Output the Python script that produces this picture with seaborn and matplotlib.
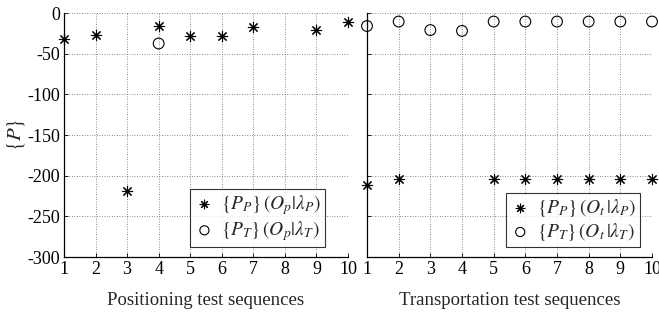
import matplotlib
matplotlib.use("Agg")
import matplotlib.pyplot as plt
import seaborn as sns
import pandas as pd
import numpy as np

sns.set_theme(style="white")
plt.rcParams['font.family'] = ['Liberation Serif', 'DejaVu Serif']
plt.rcParams['mathtext.fontset'] = 'stix'
plt.rcParams['axes.unicode_minus'] = False

# Positioning test sequences
pos_seq_PP = [1, 2, 3, 4, 5, 6, 7, 9, 10]
pos_PP = [-31.5, -27.5, -219, -16, -28, -28, -17.5, -21.5, -11.5]
pos_seq_PT = [4]
pos_PT = [-37.5]

# Transportation test sequences
tr_seq_PP = [1, 2, 5, 6, 7, 8, 9, 10]
tr_PP = [-211, -204, -204, -204, -204, -204, -204, -204]
tr_seq_PT = [1, 2, 3, 4, 5, 6, 7, 8, 9, 10]
tr_PT = [-16, -10.5, -21, -22, -10.5, -10.5, -10.5, -10.5, -10.5, -10.5]

xticks = list(range(1, 11))
yticks = [0, -50, -100, -150, -200, -250, -300]

leg_pos = [r'$\{P_P\}\,(O_p|\lambda_P)$', r'$\{P_T\}\,(O_p|\lambda_T)$']
leg_tr = [r'$\{P_P\}\,(O_t\,|\lambda_P)$', r'$\{P_T\}\,(O_t\,|\lambda_T)$']

fig = plt.figure(figsize=(6.59, 3.2), dpi=100)
ax1 = fig.add_axes([64/659, 1-257/320, 284/659, 244/320])
ax2 = fig.add_axes([367/659, 1-257/320, 285/659, 244/320])

star = (8, 2, 0)

def draw(ax, xs1, ys1, xs2, ys2, labels, xlabel, anchor):
    d1 = pd.DataFrame({'seq': xs1, 'val': ys1})
    d2 = pd.DataFrame({'seq': xs2, 'val': ys2})
    sns.scatterplot(data=d1, x='seq', y='val', ax=ax, marker=star, s=55,
                    color='black', linewidth=0.8, label=labels[0], clip_on=False, zorder=5)
    sns.scatterplot(data=d2, x='seq', y='val', ax=ax, marker='o', s=60,
                    facecolor='none', edgecolor='black', linewidth=0.8,
                    label=labels[1], clip_on=False, zorder=5)
    ax.set_xlim(1, 10)
    ax.set_ylim(-300, 0)
    ax.set_xticks(xticks)
    ax.set_yticks(yticks)
    ax.grid(True, linestyle=(0, (1, 2)), color='#666666', linewidth=0.6)
    for s in ['top', 'right']:
        ax.spines[s].set_visible(False)
    for s in ['left', 'bottom']:
        ax.spines[s].set_color('black')
        ax.spines[s].set_linewidth(0.9)
    ax.tick_params(direction='in', length=3, width=0.6, colors='black',
                   labelsize=13, left=True, bottom=True, pad=3)
    ax.set_xlabel(xlabel, fontsize=13.5, labelpad=10)
    ax.set_ylabel('')
    leg = ax.legend(loc='lower right', bbox_to_anchor=anchor, fontsize=14,
                    frameon=True, fancybox=False, edgecolor='black',
                    handletextpad=0.3, borderpad=0.2, labelspacing=0.1,
                    handlelength=1.1, borderaxespad=0, markerscale=0.85)
    leg.get_frame().set_linewidth(0.8)

draw(ax1, pos_seq_PP, pos_PP, pos_seq_PT, pos_PT, leg_pos,
     'Positioning test sequences', (0.919, 0.041))
draw(ax2, tr_seq_PP, tr_PP, tr_seq_PT, tr_PT, leg_tr,
     'Transportation test sequences', (0.958, 0.041))
ax2.set_yticklabels([])
ax1.set_ylabel(r'$\{P\}$', fontsize=15, labelpad=0)

fig.savefig('out.png', dpi=100, facecolor='white')
